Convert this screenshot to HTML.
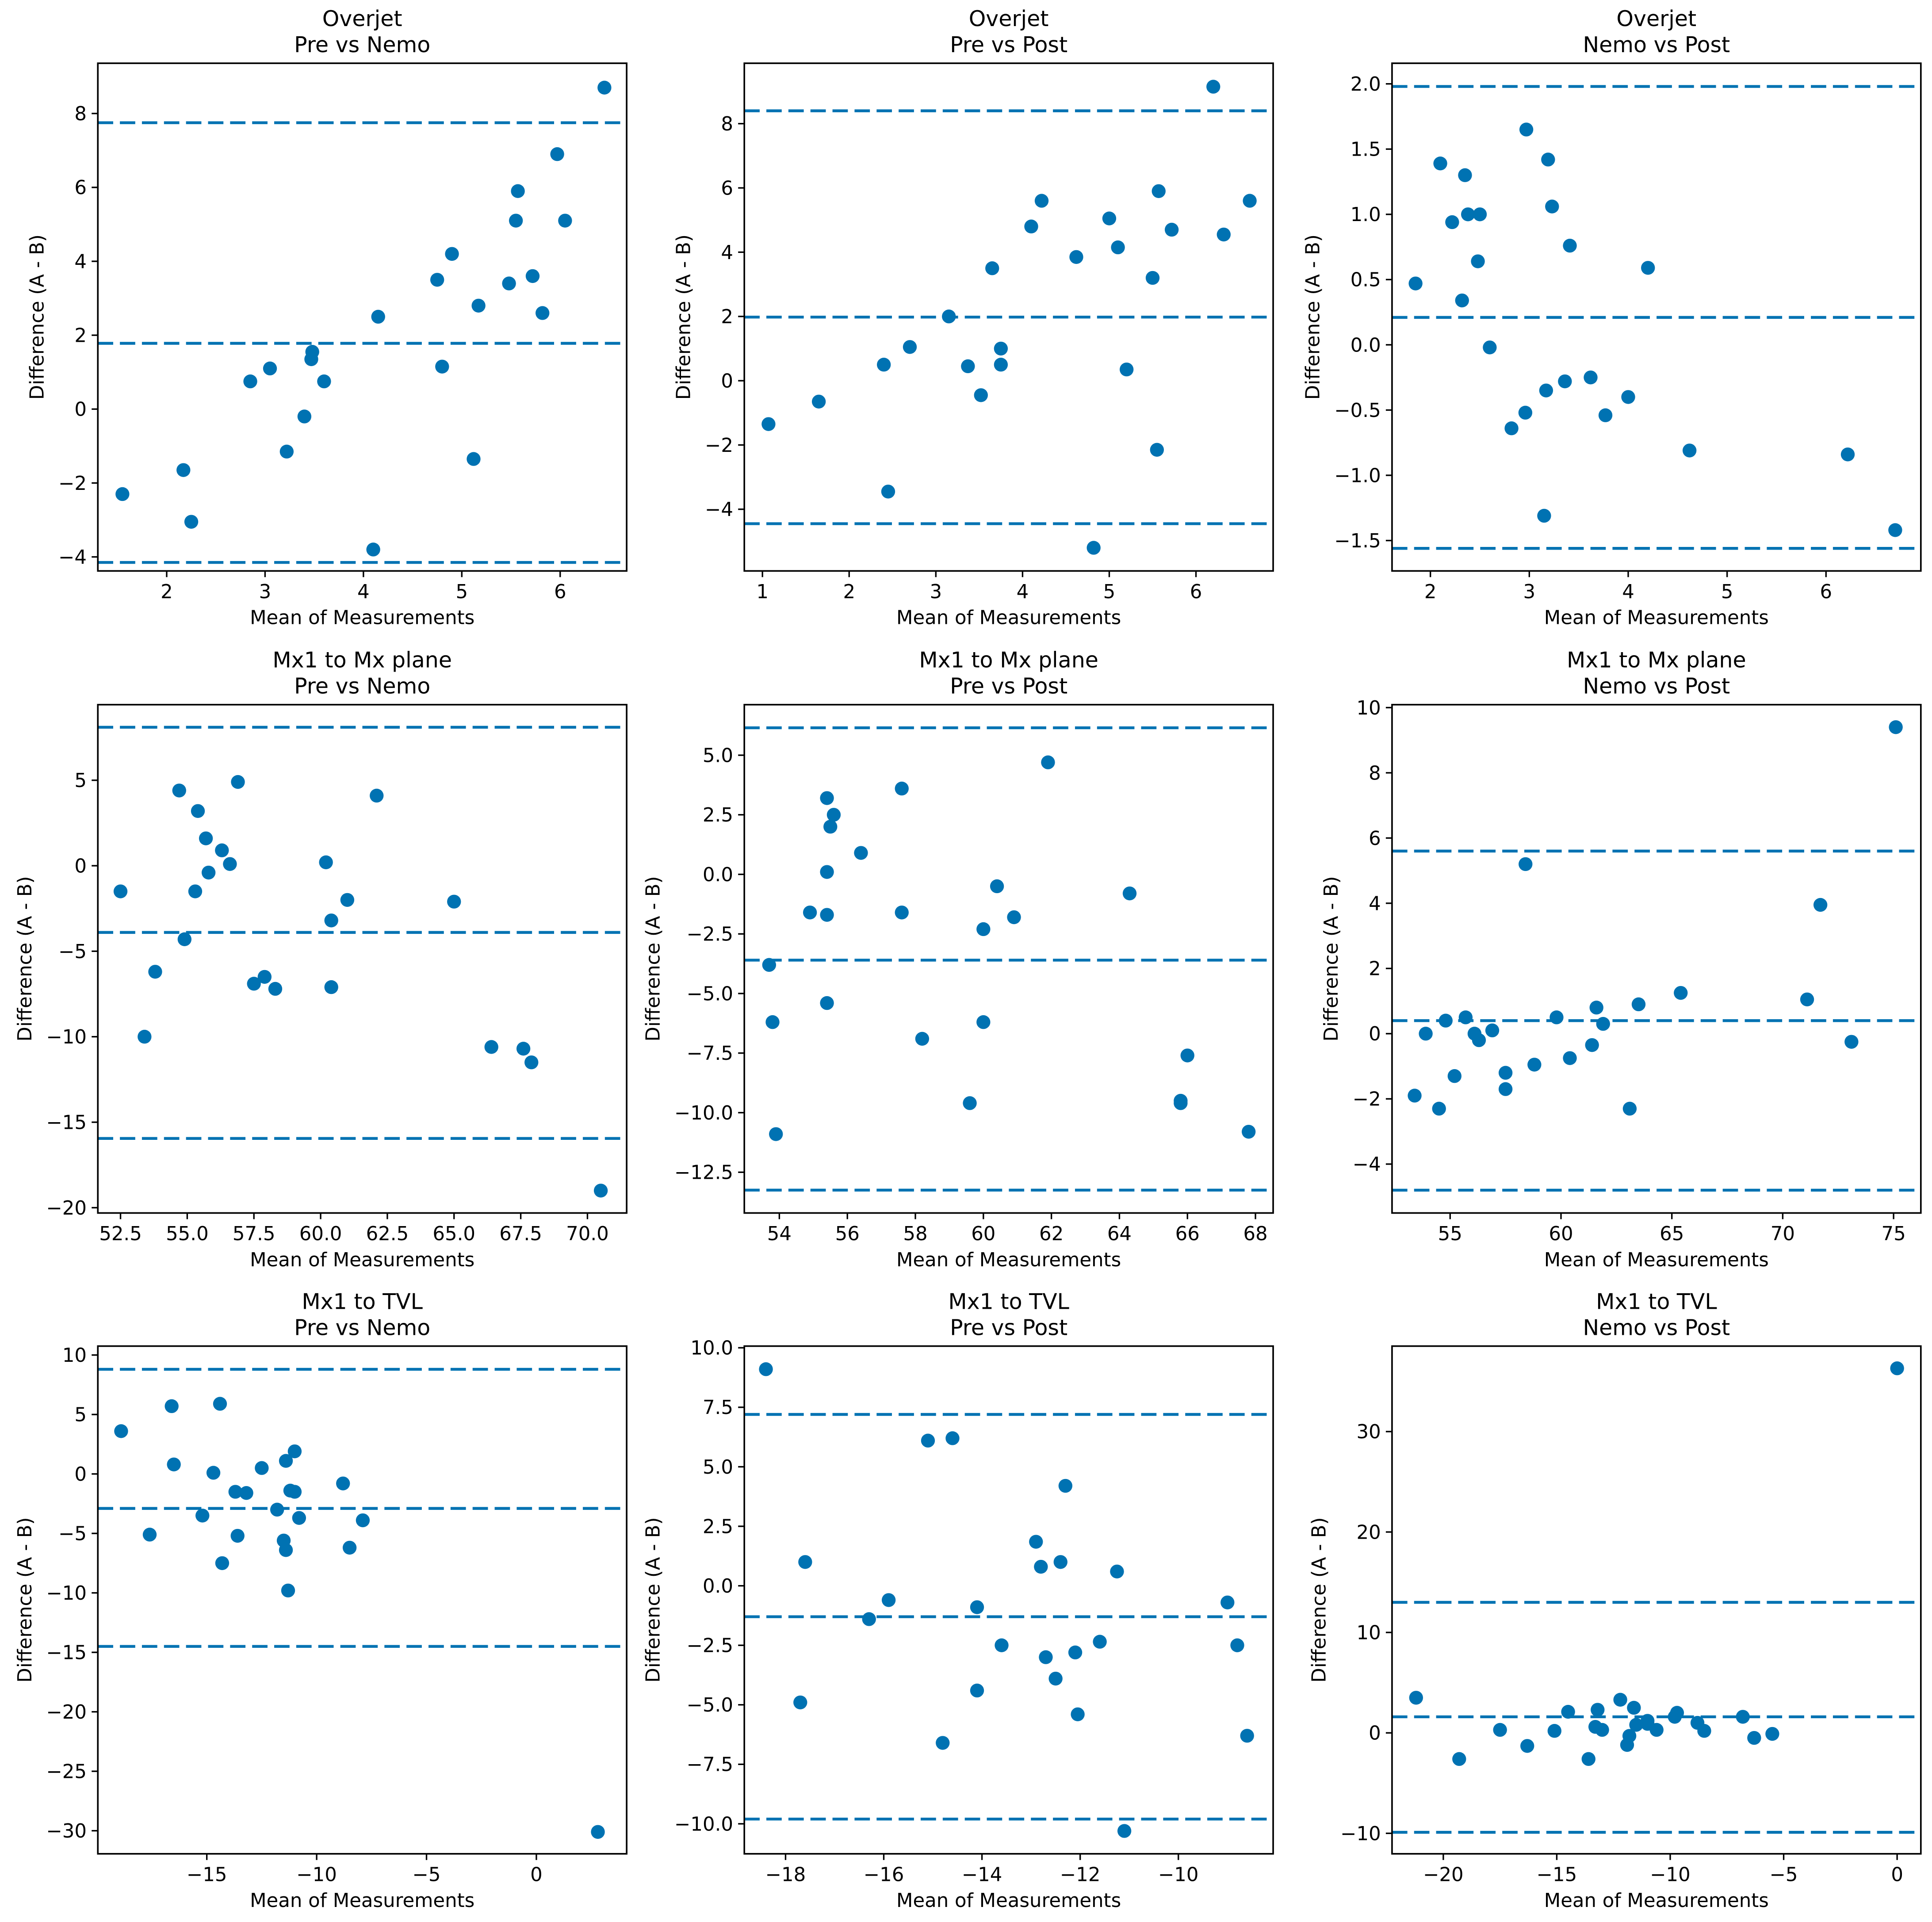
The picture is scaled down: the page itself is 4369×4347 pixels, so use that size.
<!DOCTYPE html>
<html><head><meta charset="utf-8">
<style>
html,body{margin:0;padding:0;background:#fff;}
svg{display:block;}
text{font-family:"DejaVu Sans","Liberation Sans",sans-serif;fill:#000;}
</style></head>
<body>
<svg id="fig" width="4369" height="4347" viewBox="0 0 1560 1552" xmlns="http://www.w3.org/2000/svg"></svg>
<script>
const titles = [
 ["Overjet","Pre vs Nemo"],["Overjet","Pre vs Post"],["Overjet","Nemo vs Post"],
 ["Mx1 to Mx plane","Pre vs Nemo"],["Mx1 to Mx plane","Pre vs Post"],["Mx1 to Mx plane","Nemo vs Post"],
 ["Mx1 to TVL","Pre vs Nemo"],["Mx1 to TVL","Pre vs Post"],["Mx1 to TVL","Nemo vs Post"]];
const xDomains = [[1.30,6.676],[0.791,6.89],[1.612,6.959],[51.65,71.47],[52.97,68.52],[52.38,76.23],[-19.96,4.11],[-18.84,-8.07],[-22.26,1.046]];
const yDomains = [[-4.38,9.36],[-5.92,9.88],[-1.733,2.158],[-20.31,9.42],[-14.21,7.12],[-5.5,10.09],[-31.94,10.75],[-11.26,10.07],[-12.04,38.51]];
const xTicks = [[2,3,4,5,6],[1,2,3,4,5,6],[2,3,4,5,6],[52.5,55,57.5,60,62.5,65,67.5,70],[54,56,58,60,62,64,66,68],[55,60,65,70,75],[-15,-10,-5,0],[-18,-16,-14,-12,-10],[-20,-15,-10,-5,0]];
const xTickLabels = [["2","3","4","5","6"],["1","2","3","4","5","6"],["2","3","4","5","6"],["52.5","55.0","57.5","60.0","62.5","65.0","67.5","70.0"],["54","56","58","60","62","64","66","68"],["55","60","65","70","75"],["−15","−10","−5","0"],["−18","−16","−14","−12","−10"],["−20","−15","−10","−5","0"]];
const yTicks = [[-4,-2,0,2,4,6,8],[-4,-2,0,2,4,6,8],[-1.5,-1,-0.5,0,0.5,1,1.5,2],[-20,-15,-10,-5,0,5],[-12.5,-10,-7.5,-5,-2.5,0,2.5,5],[-4,-2,0,2,4,6,8,10],[-30,-25,-20,-15,-10,-5,0,5,10],[-10,-7.5,-5,-2.5,0,2.5,5,7.5,10],[-10,0,10,20,30]];
const yTickLabels = [["−4","−2","0","2","4","6","8"],["−4","−2","0","2","4","6","8"],["−1.5","−1.0","−0.5","0.0","0.5","1.0","1.5","2.0"],["−20","−15","−10","−5","0","5"],["−12.5","−10.0","−7.5","−5.0","−2.5","0.0","2.5","5.0"],["−4","−2","0","2","4","6","8","10"],["−30","−25","−20","−15","−10","−5","0","5","10"],["−10.0","−7.5","−5.0","−2.5","0.0","2.5","5.0","7.5","10.0"],["−10","0","10","20","30"]];
const refLines = [[7.75,1.78,-4.15],[8.4,1.98,-4.45],[1.98,0.21,-1.56],[8.1,-3.9,-15.95],[6.15,-3.6,-13.25],[5.6,0.4,-4.8],[8.8,-2.9,-14.5],[7.2,-1.3,-9.8],[13.0,1.6,-9.9]];
const meansX = [
 [1.55,2.17,2.25,2.85,3.05,3.22,3.4,3.47,3.48,3.6,4.1,4.15,4.75,4.8,4.9,5.12,5.17,5.48,5.55,5.57,5.72,5.82,5.97,6.05,6.45],
 [1.07,1.65,2.4,2.45,2.7,3.15,3.37,3.52,3.65,3.75,3.75,4.1,4.22,4.62,4.82,5.0,5.1,5.2,5.5,5.55,5.57,5.72,6.2,6.32,6.62],
 [1.85,2.1,2.22,2.32,2.35,2.38,2.48,2.5,2.6,2.82,2.96,2.97,3.15,3.17,3.19,3.23,3.36,3.41,3.62,3.77,4.0,4.2,4.62,6.22,6.7],
 [52.5,53.4,53.8,54.7,54.9,55.3,55.4,55.7,55.8,56.3,56.6,56.9,57.5,57.9,58.3,60.2,60.4,60.4,61.0,62.1,65.0,66.4,67.6,67.9,70.5],
 [53.7,53.8,53.9,54.9,55.4,55.4,55.4,55.4,55.5,55.6,56.4,57.6,57.6,58.2,59.6,60.0,60.0,60.4,60.9,61.9,64.3,65.8,65.8,66.0,67.8],
 [53.4,53.9,54.5,54.8,55.2,55.7,56.1,56.3,56.9,57.5,57.5,58.4,58.8,59.8,60.4,61.4,61.6,61.9,63.1,63.5,65.4,71.1,71.7,73.1,75.1],
 [-18.9,-17.6,-16.6,-16.5,-15.2,-14.7,-14.3,-14.4,-13.7,-13.6,-13.2,-12.5,-11.8,-11.5,-11.4,-11.4,-11.3,-11.2,-11.0,-11.0,-10.8,-8.8,-8.5,-7.9,2.8],
 [-18.4,-17.6,-17.7,-16.3,-15.9,-15.1,-14.8,-14.6,-14.1,-14.1,-13.6,-12.9,-12.8,-12.7,-12.5,-12.4,-12.3,-12.1,-12.05,-11.6,-11.25,-11.1,-9.0,-8.8,-8.6],
 [-21.2,-19.3,-17.5,-16.3,-15.1,-14.5,-13.6,-13.3,-13.2,-13.0,-12.2,-11.9,-11.8,-11.6,-11.5,-11.0,-11.0,-10.6,-9.8,-9.7,-8.8,-8.5,-6.8,-6.3,-5.5,0]];
const diffsY = [
 [-2.3,-1.65,-3.05,0.75,1.1,-1.15,-0.2,1.35,1.55,0.75,-3.8,2.5,3.5,1.15,4.2,-1.35,2.8,3.4,5.1,5.9,3.6,2.6,6.9,5.1,8.7],
 [-1.35,-0.65,0.5,-3.45,1.05,2.0,0.45,-0.45,3.5,1.0,0.5,4.8,5.6,3.85,-5.2,5.05,4.15,0.35,3.2,-2.15,5.9,4.7,9.15,4.55,5.6],
 [0.47,1.39,0.94,0.34,1.3,1.0,0.64,1.0,-0.02,-0.64,-0.52,1.65,-1.31,-0.35,1.42,1.06,-0.28,0.76,-0.25,-0.54,-0.4,0.59,-0.81,-0.84,-1.42],
 [-1.5,-10,-6.2,4.4,-4.3,-1.5,3.2,1.6,-0.4,0.9,0.1,4.9,-6.9,-6.5,-7.2,0.2,-3.2,-7.1,-2.0,4.1,-2.1,-10.6,-10.7,-11.5,-19.0],
 [-3.8,-6.2,-10.9,-1.6,-1.7,-5.4,3.2,0.1,2.0,2.5,0.9,3.6,-1.6,-6.9,-9.6,-2.3,-6.2,-0.5,-1.8,4.7,-0.8,-9.5,-9.6,-7.6,-10.8],
 [-1.9,0.0,-2.3,0.4,-1.3,0.5,0.0,-0.2,0.1,-1.2,-1.7,5.2,-0.95,0.5,-0.75,-0.35,0.8,0.3,-2.3,0.9,1.25,1.05,3.95,-0.25,9.4],
 [3.6,-5.1,5.7,0.8,-3.5,0.1,-7.5,5.9,-1.5,-5.2,-1.6,0.5,-3.0,-5.6,-6.4,1.1,-9.8,-1.4,-1.5,1.9,-3.7,-0.8,-6.2,-3.9,-30.1],
 [9.1,1.0,-4.9,-1.4,-0.6,6.1,-6.6,6.2,-0.9,-4.4,-2.5,1.85,0.8,-3.0,-3.9,1.0,4.2,-2.8,-5.4,-2.35,0.6,-10.3,-0.7,-2.5,-6.3],
 [3.5,-2.6,0.3,-1.3,0.2,2.1,-2.6,0.6,2.3,0.3,3.3,-1.2,-0.3,2.5,0.8,1.2,0.9,0.3,1.6,2.0,1.0,0.2,1.6,-0.5,-0.1,36.3]];

const NS="http://www.w3.org/2000/svg";
const svg=document.getElementById('fig');
function mk(tag,attrs,parent){const e=document.createElementNS(NS,tag);for(const k in attrs)e.setAttribute(k,attrs[k]);parent.appendChild(e);return e;}
const colL=[79,601,1124], colR=[506,1028,1551], rowT=[51,569,1087], rowB=[461,979.5,1497];
const C="#0072B2";
const FS=15.5;
for(let p=0;p<9;p++){
  const r=Math.floor(p/3), c=p%3;
  const L=colL[c],R=colR[c],T=rowT[r],B=rowB[r];
  const [x0,x1]=xDomains[p],[y0,y1]=yDomains[p];
  const sx=v=>L+(v-x0)/(x1-x0)*(R-L);
  const sy=v=>B-(v-y0)/(y1-y0)*(B-T);
  const g=mk('g',{},svg);
  
  
  const t1=mk('text',{x:(L+R)/2,y:T-30,'text-anchor':'middle','font-size':17.5},g);t1.textContent=titles[p][0];
  
  
  const t2=mk('text',{x:(L+R)/2,y:T-9,'text-anchor':'middle','font-size':17.5},g);t2.textContent=titles[p][1];
  
  
  refLines[p].forEach((v,i)=>{
    const l=mk('line',{x1:L,x2:R,y1:sy(v),y2:sy(v),stroke:C,'stroke-width':2.3,'stroke-dasharray':'12.4,5.4'},g);
    
    
  });
  meansX[p].forEach((v,i)=>{
    const d=mk('circle',{cx:sx(v),cy:sy(diffsY[p][i]),r:5.6,fill:C},g);
    
    
  });
  const fr=mk('rect',{x:L,y:T,width:R-L,height:B-T,fill:'none',stroke:'#000','stroke-width':1.3},g);
  
  
  xTicks[p].forEach((v,i)=>{
    const x=sx(v);
    const tk=mk('line',{x1:x,x2:x,y1:B,y2:B+5,stroke:'#000','stroke-width':1.2},g);
    
    
    const tl=mk('text',{x:x,y:B+22,'text-anchor':'middle','font-size':FS},g);tl.textContent=xTickLabels[p][i];
    
    
  });
  let maxW=0;
  yTicks[p].forEach((v,i)=>{
    const y=sy(v);
    const tk=mk('line',{x1:L-5,x2:L,y1:y,y2:y,stroke:'#000','stroke-width':1.2},g);
    
    
    const tl=mk('text',{x:L-9,y:y+5.5,'text-anchor':'end','font-size':FS},g);tl.textContent=yTickLabels[p][i];
    
    
    try{maxW=Math.max(maxW,tl.getComputedTextLength());}catch(e){}
  });
  if(!maxW) maxW=Math.max(...yTickLabels[p].map(s=>s.length))*9.5;
  const xl=mk('text',{x:(L+R)/2,y:B+43,'text-anchor':'middle','font-size':FS},g);xl.textContent='Mean of Measurements';
  
  
  const ylx=L-maxW-21;
  const yl=mk('text',{x:ylx,y:(T+B)/2,'text-anchor':'middle','font-size':FS,transform:`rotate(-90 ${ylx} ${(T+B)/2})`},g);yl.textContent='Difference (A - B)';
  
  
}
</script>
</body></html>
